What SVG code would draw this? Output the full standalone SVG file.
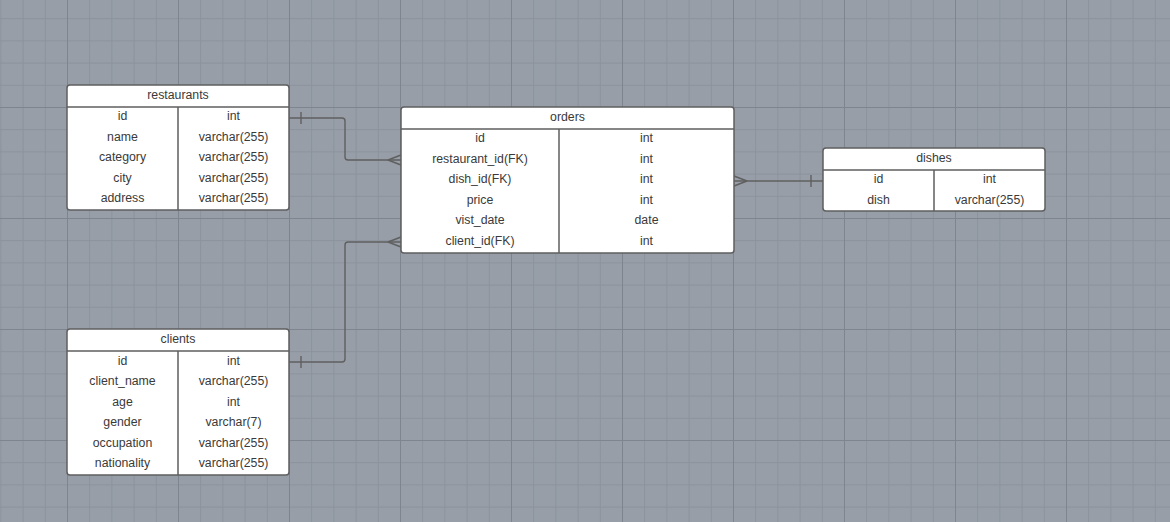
<svg xmlns="http://www.w3.org/2000/svg" width="1170" height="522" viewBox="0 0 1170 522">
<defs>
<pattern id="minor" x="0.4" y="-4" width="22.2" height="22.2" patternUnits="userSpaceOnUse">
<path d="M0.5 0V22.2M0 0.5H22.2" fill="none" stroke="#8b929c" stroke-width="1"/>
</pattern>
<pattern id="major" x="-44" y="-4" width="111" height="111" patternUnits="userSpaceOnUse">
<path d="M0.5 0V111M0 0.5H111" fill="none" stroke="#7f858e" stroke-width="1"/>
</pattern>
<style>
.tbl{fill:#fff;stroke:#5f5f5f;stroke-width:1.5}
.ln{fill:none;stroke:#5f5f5f;stroke-width:1.5}
.t{font-family:"Liberation Sans",Arial,sans-serif;font-size:12.3px;fill:#3a3a3a;text-anchor:middle}
.c{fill:none;stroke:#5f5f5f;stroke-width:1.4}
</style>
</defs>
<rect width="1170" height="522" fill="#979ea8"/>
<rect width="1170" height="522" fill="url(#minor)"/>
<rect width="1170" height="522" fill="url(#major)"/>

<g id="connectors">
<path class="c" d="M289 118H342Q345 118 345 121V157Q345 160 348 160H401"/>
<path class="c" d="M301 112V124"/>
<path class="c" d="M388 160L401 155M388 160L401 165"/>
<path class="c" d="M289 362H342Q345 362 345 359V245Q345 242 348 242H401"/>
<path class="c" d="M301 356V368"/>
<path class="c" d="M388 242L401 237M388 242L401 247"/>
<path class="c" d="M734 181H823"/>
<path class="c" d="M811 175V187"/>
<path class="c" d="M747 181L734 176M747 181L734 186"/>
</g>

<g id="restaurants">
<rect class="tbl" x="67" y="85" width="222" height="125" rx="3"/>
<path class="ln" d="M67 107H289M178 107V210"/>
<text class="t" x="178" y="99">restaurants</text>
<text class="t" x="122.5" y="120">id</text><text class="t" x="233.5" y="120">int</text>
<text class="t" x="122.5" y="141">name</text><text class="t" x="233.5" y="141">varchar(255)</text>
<text class="t" x="122.5" y="161">category</text><text class="t" x="233.5" y="161">varchar(255)</text>
<text class="t" x="122.5" y="181.5">city</text><text class="t" x="233.5" y="181.5">varchar(255)</text>
<text class="t" x="122.5" y="201.5">address</text><text class="t" x="233.5" y="201.5">varchar(255)</text>
</g>

<g id="orders">
<rect class="tbl" x="401" y="107" width="333" height="146" rx="3"/>
<path class="ln" d="M401 129H734M559 129V253"/>
<text class="t" x="567.5" y="121">orders</text>
<text class="t" x="480" y="142">id</text><text class="t" x="646.5" y="142">int</text>
<text class="t" x="480" y="162.5">restaurant_id(FK)</text><text class="t" x="646.5" y="162.5">int</text>
<text class="t" x="480" y="183">dish_id(FK)</text><text class="t" x="646.5" y="183">int</text>
<text class="t" x="480" y="203.5">price</text><text class="t" x="646.5" y="203.5">int</text>
<text class="t" x="480" y="224">vist_date</text><text class="t" x="646.5" y="224">date</text>
<text class="t" x="480" y="244.5">client_id(FK)</text><text class="t" x="646.5" y="244.5">int</text>
</g>

<g id="dishes">
<rect class="tbl" x="823" y="148" width="222" height="63" rx="3"/>
<path class="ln" d="M823 170H1045M934 170V211"/>
<text class="t" x="934" y="162">dishes</text>
<text class="t" x="878.5" y="183">id</text><text class="t" x="989.5" y="183">int</text>
<text class="t" x="878.5" y="203.5">dish</text><text class="t" x="989.5" y="203.5">varchar(255)</text>
</g>

<g id="clients">
<rect class="tbl" x="67" y="329" width="222" height="146" rx="3"/>
<path class="ln" d="M67 351H289M178 351V475"/>
<text class="t" x="178" y="343">clients</text>
<text class="t" x="122.5" y="365">id</text><text class="t" x="233.5" y="365">int</text>
<text class="t" x="122.5" y="385">client_name</text><text class="t" x="233.5" y="385">varchar(255)</text>
<text class="t" x="122.5" y="405.5">age</text><text class="t" x="233.5" y="405.5">int</text>
<text class="t" x="122.5" y="426">gender</text><text class="t" x="233.5" y="426">varchar(7)</text>
<text class="t" x="122.5" y="446.5">occupation</text><text class="t" x="233.5" y="446.5">varchar(255)</text>
<text class="t" x="122.5" y="467">nationality</text><text class="t" x="233.5" y="467">varchar(255)</text>
</g>
</svg>
